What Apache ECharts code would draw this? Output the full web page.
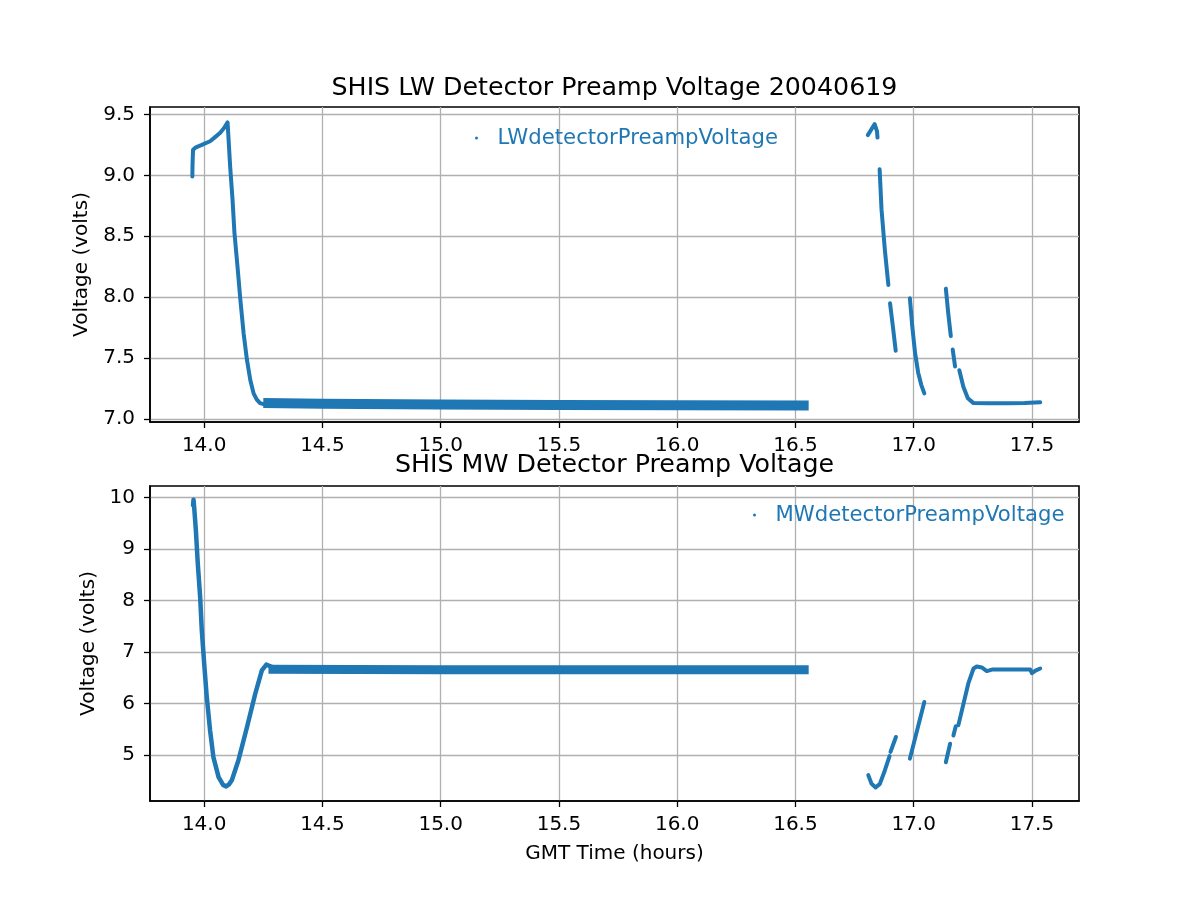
<!DOCTYPE html>
<html>
<head>
<meta charset="utf-8">
<script src="https://cdn.jsdelivr.net/npm/echarts@6/dist/echarts.min.js"></script>
<style>
html,body{margin:0;padding:0;background:#fff;}
#chart{width:1200px;height:900px;}
</style>
</head>
<body>
<div id="chart"></div>
<script>
// ---- Data: [GMT hours, volts] ----
const xTicks = [14.0, 14.5, 15.0, 15.5, 16.0, 16.5, 17.0, 17.5];
const lwTicks = [7.0, 7.5, 8.0, 8.5, 9.0, 9.5];
const mwTicks = [5, 6, 7, 8, 9, 10];

// LW detector preamp voltage segments
const lwStart = [[13.950, 8.99],[13.951, 9.10],[13.953, 9.21],[13.965, 9.23],[13.990, 9.25],[14.025, 9.28],[14.050, 9.32],[14.068, 9.35],[14.085, 9.39],[14.099, 9.435],
                 [14.110, 9.07],[14.120, 8.80],[14.128, 8.53],[14.141, 8.25],[14.153, 7.98],[14.167, 7.70],[14.181, 7.485],[14.195, 7.32],[14.209, 7.21],[14.222, 7.16],[14.236, 7.13],[14.255, 7.12]];
const lwBand = [[14.250, 7.130],[14.500, 7.125],[15.000, 7.118],[15.500, 7.115],[16.000, 7.112],[16.556, 7.111]];
const lwSegA = [[16.806, 9.33],[16.822, 9.38],[16.835, 9.42],[16.842, 9.435],[16.845, 9.36],[16.847, 9.31]];
const lwSegB = [[16.856, 9.05],[16.864, 8.72],[16.878, 8.39],[16.893, 8.10]];
const lwSegC = [[16.900, 7.95],[16.912, 7.76],[16.924, 7.56]];
const lwSegD = [[16.984, 7.99],[16.994, 7.76],[17.006, 7.54],[17.019, 7.38],[17.032, 7.28],[17.045, 7.21]];
const lwSegE = [[17.136, 8.07],[17.146, 7.87],[17.157, 7.68]];
const lwSegF = [[17.165, 7.57],[17.175, 7.43]];
const lwSegG = [[17.193, 7.40],[17.210, 7.265],[17.229, 7.17],[17.253, 7.13],[17.316, 7.129],[17.400, 7.128],[17.470, 7.130],[17.535, 7.137]];

// MW detector preamp voltage segments
const mwStart = [[13.953, 9.85],[13.955, 9.96],[13.958, 9.80],[13.965, 9.36],[13.973, 8.72],[13.983, 8.07],[13.990, 7.42],[14.000, 6.78],[14.011, 6.13],[14.025, 5.48],[14.039, 4.96],[14.061, 4.57],[14.080, 4.42],[14.093, 4.39],[14.105, 4.43],[14.117, 4.51],[14.145, 4.90],[14.181, 5.54],[14.216, 6.19],[14.244, 6.645],[14.263, 6.755],[14.287, 6.71],[14.300, 6.67]];
const mwBand = [[14.272, 6.665],[15.000, 6.655],[16.000, 6.655],[16.556, 6.655]];
const mwSegA = [[16.808, 4.61],[16.822, 4.44],[16.839, 4.37],[16.857, 4.44],[16.878, 4.70],[16.898, 4.98]];
const mwSegA2 = [[16.902, 5.06],[16.925, 5.35]];
const mwSegB = [[16.984, 4.93],[17.045, 6.03]];
const mwSegC = [[17.136, 4.86],[17.154, 5.22]];
const mwSegD = [[17.168, 5.38],[17.178, 5.56]];
const mwSegE = [[17.189, 5.58],[17.231, 6.39],[17.253, 6.68],[17.267, 6.72],[17.288, 6.70],[17.309, 6.63],[17.331, 6.66],[17.493, 6.66],[17.500, 6.59],[17.515, 6.64],[17.535, 6.68]];

const lwName = 'LWdetectorPreampVoltage';
const mwName = 'MWdetectorPreampVoltage';

// ---- Styling ----
const FONT = 'DejaVu Sans';
const BLUE = '#1f77b4';
const GRIDC = '#b0b0b0';

function xAxisCfg(idx) {
  return {
    type: 'value', gridIndex: idx, min: 13.771, max: 17.699,
    axisLine: { show: true, onZero: false, lineStyle: { color: '#000', width: 1.6 } },
    axisTick: { show: true, inside: false, length: 6, customValues: xTicks, lineStyle: { color: '#000', width: 1.3 } },
    axisLabel: { customValues: xTicks, formatter: v => v.toFixed(1), fontFamily: FONT, fontSize: 20, color: '#000', margin: 14 },
    splitLine: { show: true, lineStyle: { color: GRIDC, width: 1.3 } }
  };
}
function yAxisCfg(idx, min, max, ticks, fmt, nameGap) {
  return {
    type: 'value', gridIndex: idx, min: min, max: max,
    name: 'Voltage (volts)', nameLocation: 'middle', nameGap: nameGap,
    nameTextStyle: { fontFamily: FONT, fontSize: 20, color: '#000' },
    axisLine: { show: true, onZero: false, lineStyle: { color: '#000', width: 1.6 } },
    axisTick: { show: true, inside: false, length: 6, customValues: ticks, lineStyle: { color: '#000', width: 1.3 } },
    axisLabel: { customValues: ticks, formatter: fmt, fontFamily: FONT, fontSize: 20, color: '#000', margin: 15 },
    splitLine: { show: true, lineStyle: { color: GRIDC, width: 1.3 } }
  };
}
function seg(name, data, xi, yi, width, cap) {
  return {
    name: name, type: 'line', data: data, xAxisIndex: xi, yAxisIndex: yi,
    showSymbol: false, symbol: 'circle', symbolSize: 3,
    lineStyle: { color: BLUE, width: width, cap: cap || 'round', join: 'round' },
    itemStyle: { color: BLUE },
    emphasis: { disabled: true }, animation: false, silent: true
  };
}

const option = {
  animation: false,
  backgroundColor: '#fff',
  title: [
    { text: 'SHIS LW Detector Preamp Voltage 20040619', left: 614.5, textAlign: 'center', top: 73, padding: 0,
      textStyle: { fontFamily: FONT, fontSize: 25.3, fontWeight: 'normal', color: '#000', lineHeight: 30 } },
    { text: 'SHIS MW Detector Preamp Voltage', left: 614.5, textAlign: 'center', top: 450, padding: 0,
      textStyle: { fontFamily: FONT, fontSize: 25.3, fontWeight: 'normal', color: '#000', lineHeight: 30 } }
  ],
  legend: [
    { data: [lwName], left: 475, top: 126, padding: 0, icon: 'circle', itemWidth: 32, itemHeight: 3,
      textStyle: { fontFamily: FONT, fontSize: 21.2, color: BLUE, lineHeight: 24 }, selectedMode: false },
    { data: [mwName], left: 753, top: 503, padding: 0, icon: 'circle', itemWidth: 32, itemHeight: 3,
      textStyle: { fontFamily: FONT, fontSize: 21.2, color: BLUE, lineHeight: 24 }, selectedMode: false }
  ],
  grid: [
    { left: 150, top: 107, width: 929, height: 315, show: true, borderColor: '#000', borderWidth: 1.6, backgroundColor: 'transparent' },
    { left: 150, top: 486, width: 929, height: 315, show: true, borderColor: '#000', borderWidth: 1.6, backgroundColor: 'transparent' }
  ],
  xAxis: [
    xAxisCfg(0),
    Object.assign(xAxisCfg(1), { name: 'GMT Time (hours)', nameLocation: 'middle', nameGap: 43,
      nameTextStyle: { fontFamily: FONT, fontSize: 20, color: '#000' } })
  ],
  yAxis: [
    yAxisCfg(0, 6.975, 9.561, lwTicks, v => v.toFixed(1), 58),
    yAxisCfg(1, 4.107, 10.225, mwTicks, v => String(Math.round(v)), 50)
  ],
  series: [
    seg(lwName, lwStart, 0, 0, 4),
    seg(lwName, lwBand, 0, 0, 10, 'butt'),
    seg(lwName, lwSegA, 0, 0, 4),
    seg(lwName, lwSegB, 0, 0, 4),
    seg(lwName, lwSegC, 0, 0, 4),
    seg(lwName, lwSegD, 0, 0, 4),
    seg(lwName, lwSegE, 0, 0, 4),
    seg(lwName, lwSegF, 0, 0, 4),
    seg(lwName, lwSegG, 0, 0, 4),
    seg(mwName, mwStart, 1, 1, 4.5),
    seg(mwName, mwBand, 1, 1, 9, 'butt'),
    seg(mwName, mwSegA, 1, 1, 4),
    seg(mwName, mwSegA2, 1, 1, 4),
    seg(mwName, mwSegB, 1, 1, 4),
    seg(mwName, mwSegC, 1, 1, 4),
    seg(mwName, mwSegD, 1, 1, 4),
    seg(mwName, mwSegE, 1, 1, 4)
  ]
};

const chart = echarts.init(document.getElementById('chart'), null, { renderer: 'canvas' });
chart.setOption(option);
</script>
</body>
</html>
